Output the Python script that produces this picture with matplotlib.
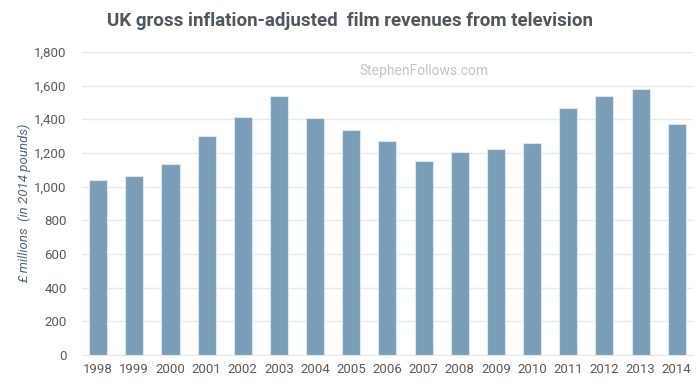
import matplotlib
matplotlib.use("Agg")
import matplotlib.pyplot as plt
from matplotlib.ticker import FuncFormatter

years = [str(y) for y in range(1998, 2015)]
revenues = [1037, 1063, 1135, 1300, 1415, 1535, 1410, 1335, 1273,
            1154, 1206, 1226, 1258, 1466, 1539, 1580, 1370]

bar_color = "#7a9db8"
text_color = "#555b61"
title_color = "#4d5761"
grid_color = "#e6e9ee"

plt.rcParams["font.family"] = ["Roboto", "DejaVu Sans"]

fig = plt.figure(figsize=(7, 3.9), dpi=100)
ax = fig.add_axes([0.117, 0.09, 0.873, 0.777])

x = list(range(len(years)))
ax.bar(x, revenues, width=0.5, color=bar_color, edgecolor="#dde6ee",
       linewidth=0.8, zorder=3)

ax.set_xlim(-0.45, len(years) - 0.55)
ax.set_ylim(0, 1800)
ax.set_yticks(range(0, 1801, 200))
ax.yaxis.set_major_formatter(FuncFormatter(lambda v, p: f"{int(v):,}"))
ax.set_xticks(x)
ax.set_xticklabels(years)

ax.grid(axis="y", color=grid_color, linewidth=1, zorder=0)
for s in ["top", "right", "left"]:
    ax.spines[s].set_visible(False)
ax.spines["bottom"].set_color(grid_color)
ax.tick_params(axis="both", length=0, labelsize=9.5, colors=text_color)
ax.tick_params(axis="y", pad=11)
ax.tick_params(axis="x", pad=6)

ax.set_ylabel("£ millions  (in 2014 pounds)", fontsize=9.5, style="italic",
              color="#4f6578", labelpad=2)

fig.text(0.5, 0.945, "UK gross inflation-adjusted  film revenues from television",
         ha="center", va="center", fontsize=13.5, fontweight="bold", color=title_color)
fig.text(0.605, 0.818, "StephenFollows.com", ha="center", va="center",
         fontsize=10, color="#c4c4c4")

fig.savefig("out.png", dpi=100)
